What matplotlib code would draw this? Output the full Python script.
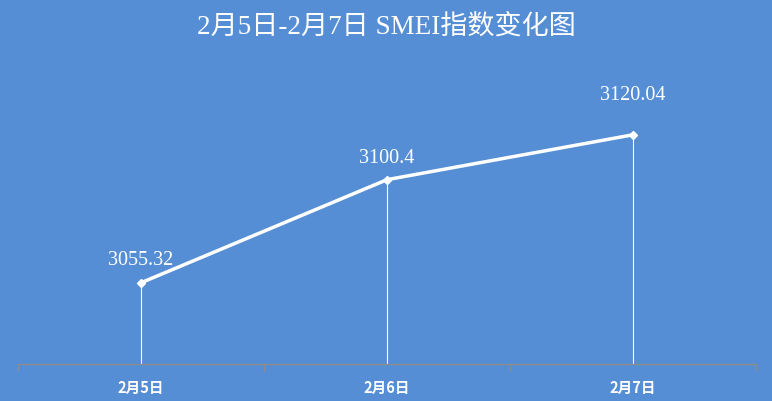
import matplotlib.pyplot as plt

dates = ['2月5日', '2月6日', '2月7日']
smei = [3055.32, 3100.4, 3120.04]
labels = ['3055.32', '3100.4', '3120.04']

bg = '#558ed5'
serif_cjk = ['Liberation Serif', 'Noto Sans CJK SC']
sans_cjk = ['Noto Sans CJK SC', 'DejaVu Sans']

fig = plt.figure(figsize=(7.72, 4.01), dpi=100, facecolor=bg)
ax = fig.add_axes([0.0233, 0.0935, 0.9560, 0.6272], facecolor=bg)

x = range(len(dates))
ax.vlines(x, 3020, smei, colors='white', linewidth=0.8)
ax.plot(x, smei, color='white', linewidth=2.5, marker='D', markersize=4.5,
        markerfacecolor='white', markeredgecolor='white', zorder=3)

offsets = [22, 21, 39]
for xi, yi, lab, off in zip(x, smei, labels, offsets):
    ax.annotate(lab, (xi, yi), xytext=(0, off * 0.72), textcoords='offset points',
                ha='center', va='center', color='white', fontsize=14.5,
                family=serif_cjk)

ax.set_xlim(-0.5, 2.5)
ax.set_ylim(3020, 3130)
ax.set_yticks([])
ax.set_xticks(list(x))
ax.set_xticklabels(dates, color='white', fontsize=10.5, fontweight='bold', family=sans_cjk)
ax.set_xticks([-0.5, 0.5, 1.5, 2.5], minor=True)
ax.tick_params(axis='x', which='major', length=0, pad=12)
ax.tick_params(axis='x', which='minor', length=5, color='#8c8c8c', width=1)
for s in ['top', 'left', 'right']:
    ax.spines[s].set_visible(False)
ax.spines['bottom'].set_color('#8c8c8c')
ax.spines['bottom'].set_linewidth(1)

fig.text(0.5, 1 - 27 / 401, '2月5日-2月7日 SMEI指数变化图', ha='center', va='center',
         color='white', fontsize=19.5, family=serif_cjk)

fig.savefig('out.png', dpi=100, facecolor=bg)
